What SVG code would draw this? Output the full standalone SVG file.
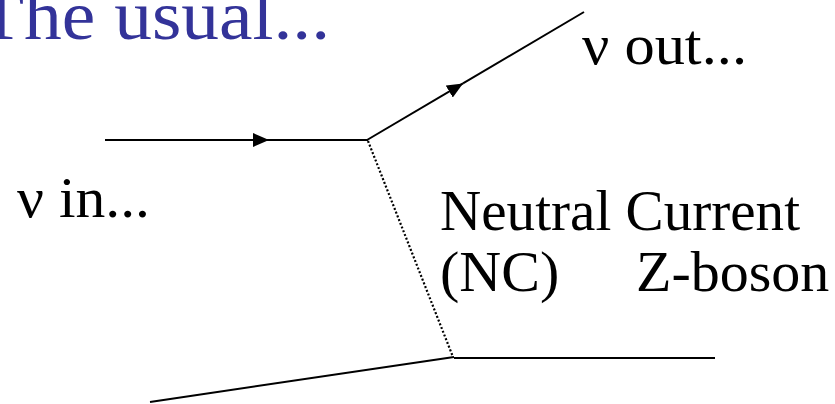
<svg xmlns="http://www.w3.org/2000/svg" width="835" height="404" viewBox="0 0 835 404">
<style>
.t{font-family:"Liberation Serif","Times New Roman",serif;fill:#000;font-size:58px}
.title{font-family:"Liberation Serif","Times New Roman",serif;fill:#333399;font-size:70px}
.ln{stroke:#000;stroke-width:2;fill:none}
.dot{stroke:#000;stroke-width:2.2;fill:none;stroke-dasharray:2 2}
</style>
<defs>
<marker id="ah" viewBox="0 0 16 14" refX="16" refY="7" markerWidth="16" markerHeight="14" markerUnits="userSpaceOnUse" orient="auto">
<path d="M0,0 L16,7 L0,14 Z" fill="#000"/>
</marker>
</defs>
<g id="title"><text class="title" x="-22" y="39" textLength="352" lengthAdjust="spacingAndGlyphs">The usual...</text></g>
<g id="connectors">
<line class="ln" x1="105" y1="140" x2="269" y2="140" marker-end="url(#ah)"/>
<line class="ln" x1="269" y1="140" x2="368" y2="140"/>
<line class="ln" x1="367" y1="140" x2="463" y2="83.4" marker-end="url(#ah)"/>
<line class="ln" x1="463" y1="83.4" x2="584" y2="12"/>
<line class="dot" x1="368" y1="141" x2="453" y2="357"/>
<line class="ln" x1="150" y1="402" x2="454" y2="357"/>
<line class="ln" x1="454" y1="358" x2="715" y2="358"/>
</g>
<g id="label-in"><text class="t" x="17" y="217" textLength="133" lengthAdjust="spacingAndGlyphs">ν in...</text></g>
<g id="label-out"><text class="t" x="582" y="64" textLength="165" lengthAdjust="spacingAndGlyphs">ν out...</text></g>
<g id="label-nc">
<text class="t" x="440" y="230" textLength="360" lengthAdjust="spacingAndGlyphs">Neutral Current</text>
<text class="t" x="440" y="291">(NC)</text>
<text class="t" x="636" y="291">Z-boson</text>
</g>
</svg>
